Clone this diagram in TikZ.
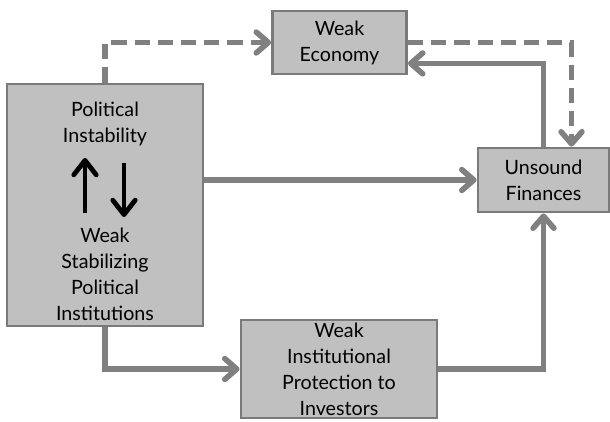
\documentclass[tikz,border=0pt]{standalone}
\usepackage{fontspec}
\setmainfont{Lato}
\usetikzlibrary{arrows.meta}
\definecolor{boxfill}{HTML}{C0C0C0}
\definecolor{boxline}{HTML}{7A7A7A}
\definecolor{linkgray}{HTML}{808080}

\tikzset{
	box/.style={draw=boxline, fill=boxfill, line width=0.07cm, align=center, inner sep=0pt, font=\fontsize{14}{18.5}\selectfont},
	boxtext/.style={align=center, inner sep=0pt, font=\fontsize{14}{18.5}\selectfont},
	link/.style={draw=linkgray, line width=0.14cm, -{Straight Barb[round, length=0.3cm, width=0.52cm]}},
	dashlink/.style={link, dash pattern=on 0.38cm off 0.2cm},
	updown/.style={black, line width=0.12cm, -{Straight Barb[round, length=0.36cm, width=0.56cm]}}
}

\begin{document}
\begin{tikzpicture}[x=0.025cm, y=-0.025cm]
\useasboundingbox (0,0) rectangle (610,421);

\node (econ) at (339.5,42.5) [box, minimum width=3.35cm, minimum height=1.575cm] {Weak\\Economy};
\node (politics) at (105,205) [box, minimum width=4.9cm, minimum height=6.05cm] {};
\node (finances) at (543.5,180) [box, minimum width=3.275cm, minimum height=1.6cm] {Unsound\\Finances};
\node (protect) at (339,369) [box, minimum width=4.9cm, minimum height=2.45cm] {Weak\\Institutional\\Protection to\\Investors};

\node (instability) at (105,124) [boxtext] {Political\\Instability};
\node (institutions) at (105,274) [boxtext] {Weak\\Stabilizing\\Political\\Institutions};

\coordinate (up low) at (85,213);
\coordinate (up high) at (85,158);
\coordinate (down high) at (124,163);
\coordinate (down low) at (124,217);
\draw [updown] (up low) -- (up high);
\draw [updown] (down high) -- (down low);

\draw [dashlink] (politics.north) |- (econ.west);
\draw [dashlink] (econ.east) -| (finances.50);
\draw [link] (finances.north) |- (econ.-17);
\draw [link] (politics.east |- finances.west) -- (finances.west);
\draw [link] (politics.south) |- (protect.west);
\draw [link] (protect.east) -| (finances.south);

\end{tikzpicture}
\end{document}
